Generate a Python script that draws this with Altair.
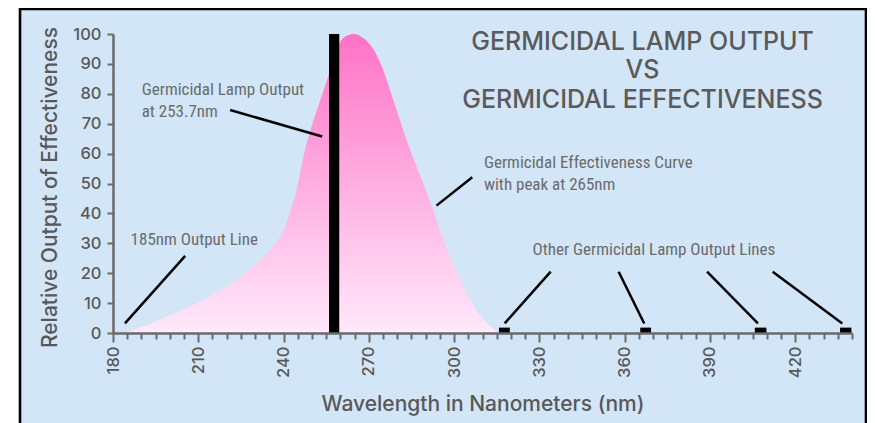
import altair as alt
import pandas as pd

# ---- data ----
wavelength = [184.5, 190, 196.6, 202, 208.3, 214, 220.1, 225, 229.4, 233, 235.3, 238, 240,
              242.4, 244.4, 247.7, 250, 252.4, 255.9, 258, 260, 262.5, 264.7, 267.5, 270.6,
              273, 275.3, 278.8, 282.3, 287, 291.7, 295.2, 298.8, 303.5, 308.2, 312.9, 315.8]
effectiveness = [0, 2.0, 4.4, 6.7, 9.4, 12.3, 15.5, 19, 22.2, 25.5, 27.8, 31, 34.4,
                 41, 47, 61.9, 69.5, 76.4, 86.4, 93, 97.5, 99.5, 100, 99, 96.3,
                 92.5, 87.4, 77.4, 67.3, 55.1, 43.9, 33.9, 25, 15, 7.1, 2.1, 0]

# lamp output lines (wavelength start, end, relative output)
line_start = [256.0, 315.8, 365.5, 405.8, 435.8]
line_end = [259.6, 319.6, 369.3, 409.9, 439.8]
line_output = [100, 1.8, 1.8, 1.8, 1.8]

# leader lines (x, y) -> (x2, y2) in data units
lead_x = [184.2, 221.2, 293.8, 334.0, 357.9, 389.0, 412.1]
lead_y = [3.2, 74.6, 42.6, 20.5, 20.5, 20.5, 20.5]
lead_x2 = [205.4, 253.6, 306.4, 317.8, 366.9, 406.9, 436.6]
lead_y2 = [25.8, 65.7, 52.1, 3.2, 3.2, 3.2, 3.2]

# annotation texts
note_text = ["Germicidal Lamp Output", "at 253.7nm", "185nm Output Line",
             "Germicidal Effectiveness Curve", "with peak at 265nm",
             "Other Germicidal Lamp Output Lines"]
note_x = [190.1, 190.1, 186.2, 310.5, 310.5, 327.6]
note_y = [79.6, 72.2, 29.3, 55.1, 47.8, 26.1]

title_lines = ["GERMICIDAL LAMP OUTPUT", "VS", "GERMICIDAL EFFECTIVENESS"]
title_x = [366.3, 366.3, 366.3]
title_y = [94.8, 85.2, 75.4]

x_ticks = list(range(180, 445, 5))
y_ticks = list(range(0, 101, 10))

# ---- styling ----
AX_FONT = "Inter"
NOTE_FONT = "Liberation Sans Narrow, Roboto Condensed, Arial Narrow, sans-serif"
GREY = "#585858"
AXIS_GREY = "#6a6a6a"

xscale = alt.Scale(domain=[180, 440], nice=False, zero=False)
yscale = alt.Scale(domain=[0, 100], nice=False)

xaxis = alt.Axis(
    values=x_ticks,
    labelExpr="datum.value % 30 === 0 ? datum.label : ''",
    labelAngle=-90, labelAlign="right", labelBaseline="middle",
    labelFont=AX_FONT, labelFontSize=16.5, labelFontWeight=500, labelColor=GREY,
    labelPadding=4, labelFlush=False, labelOverlap=False,
    tickSize={"condition": {"test": "datum.value % 30 === 0", "value": 9}, "value": 6},
    tickColor=AXIS_GREY, tickWidth=2, domainColor=AXIS_GREY, domainWidth=2.5,
    grid=False, zindex=1,
    title="Wavelength in Nanometers (nm)", titleFont=AX_FONT, titleFontSize=21,
    titleFontWeight=500, titleColor=GREY, titleBaseline="alphabetic", titleY=77,
)
yaxis = alt.Axis(
    values=y_ticks,
    labelFont=AX_FONT, labelFontSize=16.5, labelFontWeight=500, labelColor=GREY,
    labelPadding=6, labelFlush=False,
    tickSize=6, tickColor=AXIS_GREY, tickWidth=2, domainColor=AXIS_GREY, domainWidth=2.5,
    grid=False, zindex=1,
    title="Relative Output of Effectiveness", titleFont=AX_FONT, titleFontSize=21,
    titleFontWeight=500, titleColor=GREY, titleBaseline="alphabetic",
    titleX=-57, titleY=153, titleAngle=-90, titleAlign="center",
)

def X(field):
    return alt.X(field, type="quantitative", scale=xscale, axis=xaxis)

def Y(field):
    return alt.Y(field, type="quantitative", scale=yscale, axis=yaxis)

curve_df = pd.DataFrame({"x": wavelength, "y": effectiveness})
lines_df = pd.DataFrame({"x": line_start, "x2": line_end, "y": [0] * len(line_output), "y2": line_output})
lead_df = pd.DataFrame({"x": lead_x, "y": lead_y, "x2": lead_x2, "y2": lead_y2})
note_df = pd.DataFrame({"x": note_x, "y": note_y, "text": note_text})
title_df = pd.DataFrame({"x": title_x, "y": title_y, "text": title_lines})

panel = alt.Chart(pd.DataFrame({"a": [0]})).mark_rect(
    fill="#d2e6f8", stroke="#000000", strokeWidth=2.6, clip=False
).encode(
    x=alt.value(-93), x2=alt.value(753), y=alt.value(-25), y2=alt.value(440)
)

gradient = {
    "gradient": "linear",
    "stops": [{"offset": 0, "color": "#ffe9fb"}, {"offset": 1, "color": "#ff72c6"}],
    "x1": 1, "x2": 1, "y1": 1, "y2": 0,
}
area = alt.Chart(curve_df).mark_area(interpolate="monotone", color=gradient).encode(
    x=X("x"), y=Y("y")
)

bars = alt.Chart(lines_df).mark_rect(color="#000000").encode(
    x=X("x"), x2="x2", y=Y("y"), y2="y2"
)

leaders = alt.Chart(lead_df).mark_rule(color="#000000", strokeWidth=2.5).encode(
    x=X("x"), y=Y("y"), x2="x2", y2="y2"
)

notes = alt.Chart(note_df).mark_text(
    align="left", baseline="alphabetic", font=NOTE_FONT, fontSize=17, color="#6b6b6b"
).encode(x=X("x"), y=Y("y"), text="text")

titles = alt.Chart(title_df).mark_text(
    align="center", baseline="alphabetic", font=AX_FONT, fontSize=25, fontWeight=500,
    color="#5a5a5a"
).encode(x=X("x"), y=Y("y"), text="text")

chart = alt.layer(panel, area, bars, leaders, notes, titles).properties(
    width=739, height=299,
    autosize=alt.AutoSizeParams(type="none"),
    padding={"left": 105, "top": 26, "right": 15, "bottom": 90},
    background="#ffffff",
).configure_view(stroke=None)

chart.save("out.html", embed_options={"renderer": "svg", "actions": False})
